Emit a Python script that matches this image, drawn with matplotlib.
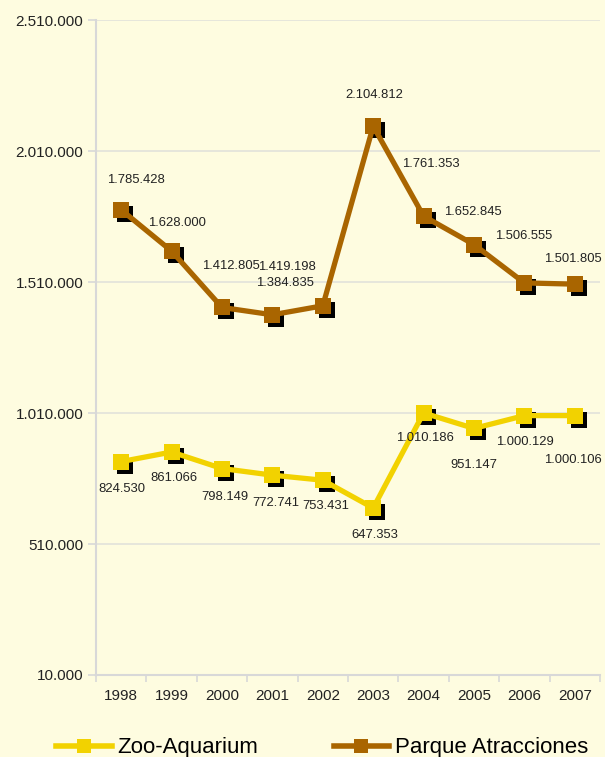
import matplotlib
matplotlib.use("Agg")
import matplotlib.pyplot as plt
import matplotlib.transforms as mtrans
from matplotlib.lines import Line2D

years = ["1998", "1999", "2000", "2001", "2002", "2003", "2004", "2005", "2006", "2007"]
zoo = [824530, 861066, 798149, 772741, 753431, 647353, 1010186, 951147, 1000129, 1000106]
parque = [1785428, 1628000, 1412805, 1384835, 1419198, 2104812, 1761353, 1652845, 1506555, 1501805]
yticks = [10000, 510000, 1010000, 1510000, 2010000, 2510000]

# label offsets in pixels (dx, dy) relative to each point
zoo_off = [(1, -27), (2, -26), (3, -28), (3, -28), (3, -26), (2, -27), (1, -25), (0, -37), (0, -26), (-2, -44)]
par_off = [(15, 30), (5, 28), (9, 41), (13, 32), (-36, 39), (1, 31), (7, 52), (-1, 33), (-1, 47), (-2, 25)]

bg = "#FEFCE0"
c_zoo = "#F2D200"
c_par = "#A96500"

def fmt(v):
    return f"{v:,}".replace(",", ".")

plt.rcParams['font.family'] = ['Liberation Sans', 'DejaVu Sans']
fig = plt.figure(figsize=(6.05, 7.57), dpi=100, facecolor=bg)
W, H = 605, 757
ax = fig.add_axes([96 / W, 1 - 675 / H, (600 - 96) / W, (675 - 20) / H], facecolor=bg)

x = list(range(len(years)))
shadow = mtrans.offset_copy(ax.transData, fig=fig, x=4, y=-4, units='dots')

for vals, col in [(zoo, c_zoo), (parque, c_par)]:
    ax.plot(x, vals, linestyle='none', marker='s', markersize=11.5, color='black',
            markeredgewidth=0, transform=shadow, zorder=3, clip_on=False)
    ax.plot(x, vals, color=col, linewidth=3.8, marker='s', markersize=11.5,
            markeredgewidth=0, zorder=4, clip_on=False)

for vals, offs in [(zoo, zoo_off), (parque, par_off)]:
    for xi, v, (dx, dy) in zip(x, vals, offs):
        ax.annotate(fmt(v), (xi, v), xytext=(dx, dy), textcoords='offset pixels',
                    ha='center', va='center', fontsize=9.4, color='#222222', zorder=5)

ax.set_xlim(-0.5, len(years) - 0.5)
ax.set_ylim(10000, 2510000)
ax.set_yticks(yticks)
ax.set_yticklabels([fmt(v) for v in yticks], fontsize=11)
ax.set_xticks(x)
ax.set_xticklabels(years, fontsize=11)
ax.set_xticks([i - 0.5 for i in range(len(years) + 1)], minor=True)
ax.tick_params(axis='x', which='major', length=0, pad=10, colors='#222222')
ax.tick_params(axis='x', which='minor', length=5, color='#D8D8D8', width=1.2)
ax.tick_params(axis='y', length=6, color='#D8D8D8', width=1.2, pad=3, colors='#222222')
for t in ax.get_yticklines():
    t.set_color('#D8D8D8')
ax.grid(axis='y', color='#E2E2DA', linewidth=1.2)
ax.set_axisbelow(True)
for s in ['top', 'right']:
    ax.spines[s].set_visible(False)
for s in ['left', 'bottom']:
    ax.spines[s].set_color('#D8D8D8')
    ax.spines[s].set_linewidth(1.5)

handles = [Line2D([], [], color=c_zoo, linewidth=4, marker='s', markersize=10, markeredgewidth=0),
           Line2D([], [], color=c_par, linewidth=4, marker='s', markersize=10, markeredgewidth=0)]
fig.legend(handles, ["Zoo-Aquarium", "Parque Atracciones"], loc='center',
           bbox_to_anchor=(322 / W, 1 - 748 / H), ncol=2, frameon=False, fontsize=16,
           handlelength=2.5, handletextpad=0.25, columnspacing=3.4)

fig.savefig("out.png", dpi=100, facecolor=bg)
